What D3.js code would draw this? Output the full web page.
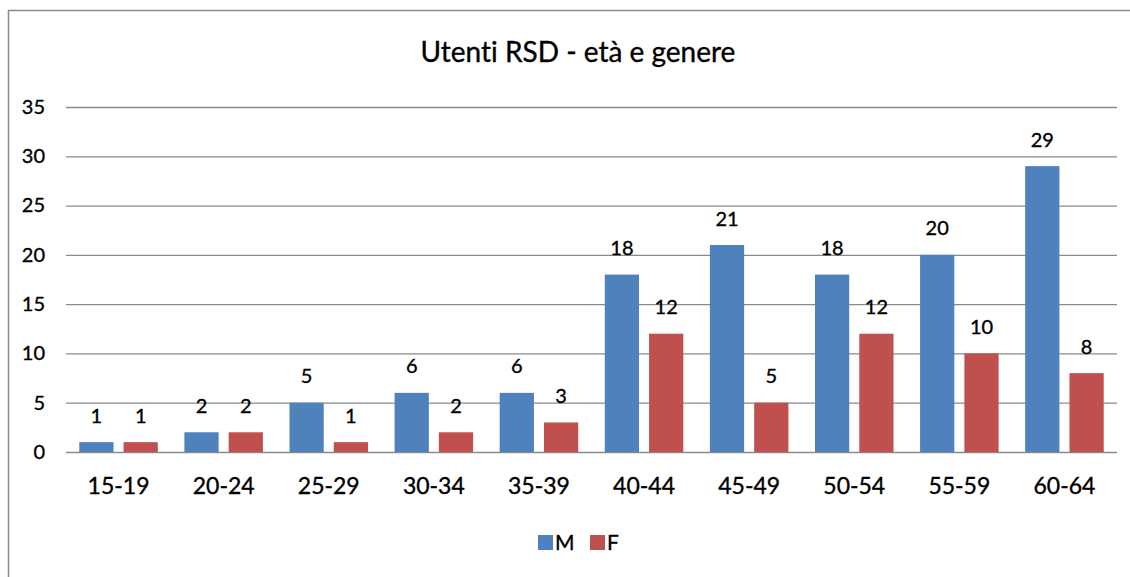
<!DOCTYPE html>
<html>
<head>
<meta charset="utf-8">
<script src="https://cdn.jsdelivr.net/npm/d3@7/dist/d3.min.js"></script>
<style>
  html, body { margin: 0; padding: 0; background: #fff; }
  svg { display: block; }
  text { font-family: Lato, "Open Sans", sans-serif; fill: #000; font-variant-ligatures: none;
         stroke: #000; stroke-width: 0.35px; }
</style>
</head>
<body>
<svg id="chart" width="1130" height="577"></svg>
<script>
// Age groups and counts of users by gender
const ageGroups = ["15-19", "20-24", "25-29", "30-34", "35-39", "40-44", "45-49", "50-54", "55-59", "60-64"];
const maleCounts = [1, 2, 5, 6, 6, 18, 21, 18, 20, 29];
const femaleCounts = [1, 2, 1, 2, 3, 12, 5, 12, 10, 8];
const seriesNames = ["M", "F"];
const seriesColors = ["#4F81BD", "#C0504D"];
const yTicks = [0, 5, 10, 15, 20, 25, 30, 35];
const chartTitle = "Utenti RSD - età e genere";

const svg = d3.select("#chart");
const W = 1130, H = 577;

// outer frame
svg.append("rect")
  .attr("x", 8.5).attr("y", 10.5)
  .attr("width", W + 10).attr("height", H + 10)
  .attr("fill", "#fff").attr("stroke", "#8c8c8c").attr("stroke-width", 1.5);

const plot = { left: 66, right: 1117, top: 107, bottom: 452 };

const x = d3.scaleBand().domain(ageGroups).range([plot.left, plot.right]).paddingInner(0).paddingOuter(0);
const x1 = d3.scaleBand().domain(seriesNames).range([0, x.bandwidth()]).paddingInner(0.227).paddingOuter(0.3);
const y = d3.scaleLinear().domain([0, 35]).range([plot.bottom, plot.top]);

// title
svg.append("text")
  .attr("x", 578).attr("y", 62)
  .attr("text-anchor", "middle")
  .attr("font-size", 28)
  .text(chartTitle);

// gridlines and y labels
const yAxis = d3.axisLeft(y).tickValues(yTicks).tickSize(-(plot.right - plot.left)).tickPadding(21).tickFormat(d3.format("d"));
const gy = svg.append("g").attr("transform", `translate(${plot.left},0)`).call(yAxis);
gy.select(".domain").remove();
gy.selectAll(".tick line").attr("stroke", "#8a8a8a").attr("stroke-width", 1.3);
gy.selectAll(".tick text").attr("font-size", 20).attr("font-family", "Lato, sans-serif").attr("fill", "#000");

// x labels
const xAxis = d3.axisBottom(x).tickSize(0).tickPadding(0);
const gx = svg.append("g").attr("transform", `translate(0,${plot.bottom})`).call(xAxis);
gx.select(".domain").remove();
gx.selectAll(".tick text").attr("y", 42).attr("dy", 0)
  .attr("font-size", 23).attr("font-family", "Lato, sans-serif").attr("fill", "#000");

// bars
const rows = ageGroups.map((g, i) => ({ group: g, values: [maleCounts[i], femaleCounts[i]] }));
const groups = svg.append("g").selectAll("g").data(rows).join("g")
  .attr("transform", d => `translate(${x(d.group)},0)`);

groups.selectAll("rect")
  .data(d => d.values.map((v, j) => ({ key: seriesNames[j], value: v, color: seriesColors[j] })))
  .join("rect")
  .attr("x", d => x1(d.key))
  .attr("y", d => y(d.value))
  .attr("width", x1.bandwidth())
  .attr("height", d => y(0) - y(d.value))
  .attr("fill", d => d.color);

groups.selectAll("text.val")
  .data(d => d.values.map((v, j) => ({ key: seriesNames[j], value: v })))
  .join("text")
  .attr("class", "val")
  .attr("x", d => x1(d.key) + x1.bandwidth() / 2)
  .attr("y", d => y(d.value) - 19.5)
  .attr("text-anchor", "middle")
  .attr("font-size", 20)
  .text(d => d.value);

// legend
const legend = svg.append("g").attr("transform", "translate(538,535)");
seriesNames.forEach((name, i) => {
  const lg = legend.append("g").attr("transform", `translate(${i * 52},0)`);
  lg.append("rect").attr("width", 15).attr("height", 15).attr("fill", seriesColors[i]);
  lg.append("text").attr("x", 17).attr("y", 15).attr("font-size", 21).text(name);
});
</script>
</body>
</html>
